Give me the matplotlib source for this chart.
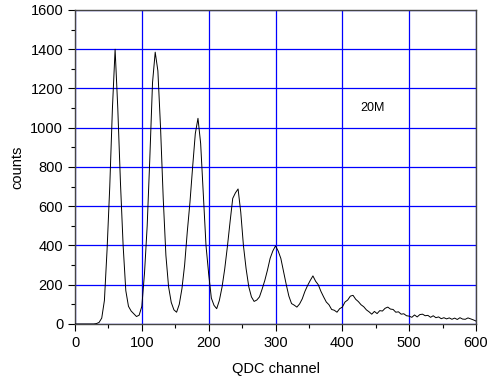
import numpy as np
import matplotlib
matplotlib.use("Agg")
import matplotlib.pyplot as plt
from matplotlib.ticker import MultipleLocator

plt.rcParams["font.family"] = ["Liberation Sans", "DejaVu Sans"]

# QDC spectrum, one value every 4 channels
channel = np.arange(0, 601, 4)
counts = [
    0, 0, 0, 0, 0, 0, 0, 0, 2, 8,              # 0-36
    30, 120, 380, 700, 1100, 1400, 1100, 720, 400, 170,   # 40-76
    90, 66, 52, 38, 45, 90, 260, 500, 850, 1230,          # 80-116
    1385, 1290, 1000, 640, 350, 190, 110, 72, 60, 100,    # 120-156
    180, 300, 470, 620, 800, 970, 1048, 920, 660, 400,    # 160-196
    255, 132, 95, 78, 120, 188, 280, 394, 520, 640,       # 200-236
    668, 688, 570, 400, 282, 190, 138, 115, 122, 138,     # 240-276
    178, 222, 275, 335, 372, 398, 372, 334, 268, 202,     # 280-316
    142, 104, 96, 86, 102, 128, 166, 196, 222, 245,       # 320-356
    218, 200, 166, 138, 112, 98, 74, 70, 60, 78,          # 360-396
    86, 112, 122, 142, 146, 126, 114, 98, 88, 72,         # 400-436
    62, 50, 64, 53, 68, 66, 80, 86, 76, 74,               # 440-476
    60, 62, 50, 52, 42, 40, 34, 46, 36, 48,               # 480-516
    50, 42, 44, 34, 42, 32, 36, 27, 32, 26,               # 520-556
    31, 24, 30, 23, 32, 25, 24, 31, 26, 21,               # 560-596
    15,
]

fig = plt.figure(figsize=(4.88, 3.80), dpi=100)
ax = fig.add_axes([0.1537, 0.1474, 0.8217, 0.8263])
ax.plot(channel, counts, color="black", lw=0.7, zorder=3)

ax.set_xlim(0, 600)
ax.set_ylim(0, 1600)
ax.xaxis.set_major_locator(MultipleLocator(100))
ax.xaxis.set_minor_locator(MultipleLocator(50))
ax.yaxis.set_major_locator(MultipleLocator(200))
ax.yaxis.set_minor_locator(MultipleLocator(100))
ax.grid(True, which="major", color="#0000ff", lw=0.9, zorder=1)
ax.tick_params(which="major", direction="out", length=5, width=0.8,
               labelsize=10.5, top=False, right=False)
ax.tick_params(which="minor", direction="out", length=3, width=0.8,
               top=False, right=False)
for s in ax.spines.values():
    s.set_color("#444444")
    s.set_linewidth(1.0)

ax.set_xlabel("QDC channel", fontsize=10.5, labelpad=9)
ax.set_ylabel("counts", fontsize=10.5, labelpad=4)
ax.text(427, 1085, "20M", fontsize=9)

fig.savefig("out.png", dpi=100)
